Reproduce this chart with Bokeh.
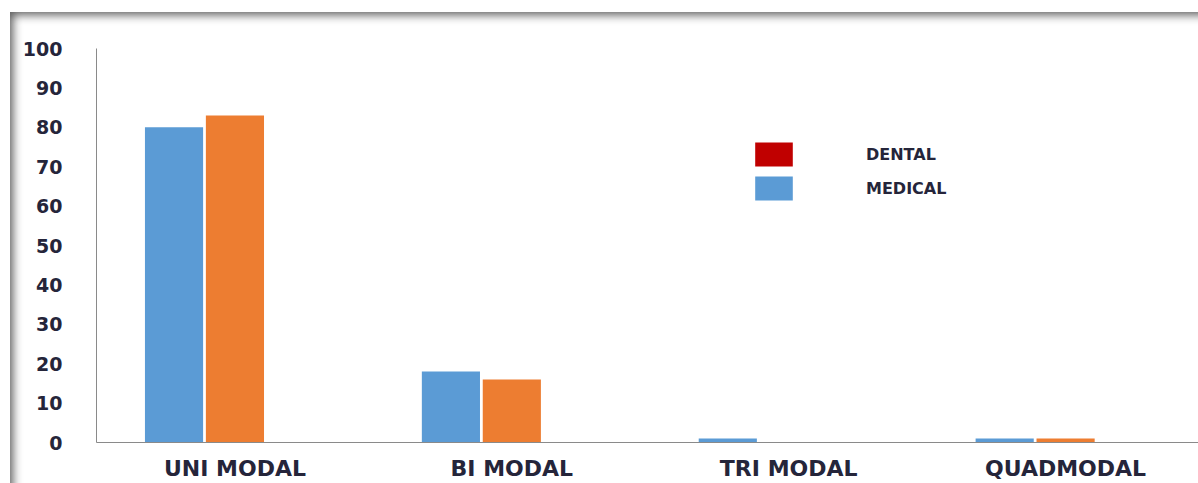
import numpy as np
from bokeh.plotting import figure
from bokeh.models import Range1d, FixedTicker, Legend, LegendItem
from bokeh.embed import file_html
from bokeh.resources import INLINE

# ---- data ----
categories = ["UNI MODAL", "BI MODAL", "TRI MODAL", "QUADMODAL"]
medical = [80, 18, 1, 1]      # blue
second = [83, 16, 0, 1]       # orange (unlabelled in the legend)
dental = [0, 0, 0, 0]         # red
y_ticks = [0, 10, 20, 30, 40, 50, 60, 70, 80, 90, 100]

BLUE = "#5B9BD5"
ORANGE = "#ED7D31"
RED = "#C00000"
FONT = "DejaVu Sans"
TXT = "#25253a"

W, H = 1198, 483
p = figure(width=W, height=H, output_backend="svg", toolbar_location=None,
           x_range=Range1d(-0.5, 3.48), y_range=Range1d(0, 100),
           min_border_left=96, min_border_right=0, min_border_top=48,
           min_border_bottom=40, outline_line_color=None,
           border_fill_color=None, background_fill_color=None)

# picture frame: dark edge on top/left with a soft inner shadow
p.styles = {"box-shadow": "inset 10px 12px 0 0 #ffffff, inset 13px 15px 10px 0 #5e5e5e",
            "background-color": "#ffffff"}

xs = np.arange(len(categories))
step = 0.22
bw = 0.21
r_med = p.vbar(x=xs - step, top=medical, width=bw, fill_color=BLUE, line_color=None)
r_sec = p.vbar(x=xs, top=second, width=bw, fill_color=ORANGE, line_color=None)
r_den = p.vbar(x=xs + step, top=dental, width=bw, fill_color=RED, line_color=None)

p.xgrid.visible = False
p.ygrid.visible = False

# axes
p.yaxis.ticker = FixedTicker(ticks=y_ticks)
p.yaxis.major_tick_out = 0
p.yaxis.major_tick_in = 0
p.yaxis.minor_tick_out = 0
p.yaxis.minor_tick_in = 0
p.yaxis.major_label_standoff = 34
p.yaxis.axis_line_color = "#8a8a8a"
p.yaxis.major_label_text_font = FONT
p.yaxis.major_label_text_font_style = "bold"
p.yaxis.major_label_text_font_size = "19px"
p.yaxis.major_label_text_color = TXT

p.xaxis.ticker = FixedTicker(ticks=list(xs))
p.xaxis.major_label_overrides = {int(i): c for i, c in zip(xs, categories)}
p.xaxis.major_tick_out = 0
p.xaxis.major_tick_in = 0
p.xaxis.minor_tick_out = 0
p.xaxis.minor_tick_in = 0
p.xaxis.major_label_standoff = 13
p.xaxis.axis_line_color = "#8a8a8a"
p.xaxis.major_label_text_font = FONT
p.xaxis.major_label_text_font_style = "bold"
p.xaxis.major_label_text_font_size = "22px"
p.xaxis.major_label_text_color = TXT

# legend
legend = Legend(items=[LegendItem(label="DENTAL", renderers=[r_den]),
                       LegendItem(label="MEDICAL", renderers=[r_med])],
                location=(654, 239), glyph_width=47, glyph_height=30,
                label_standoff=69, spacing=4, padding=0, margin=0,
                border_line_color=None, background_fill_alpha=0,
                label_text_font=FONT, label_text_font_style="bold",
                label_text_font_size="16px", label_text_color=TXT)
p.add_layout(legend, "center")

open("out.html", "w").write(file_html(p, INLINE))
